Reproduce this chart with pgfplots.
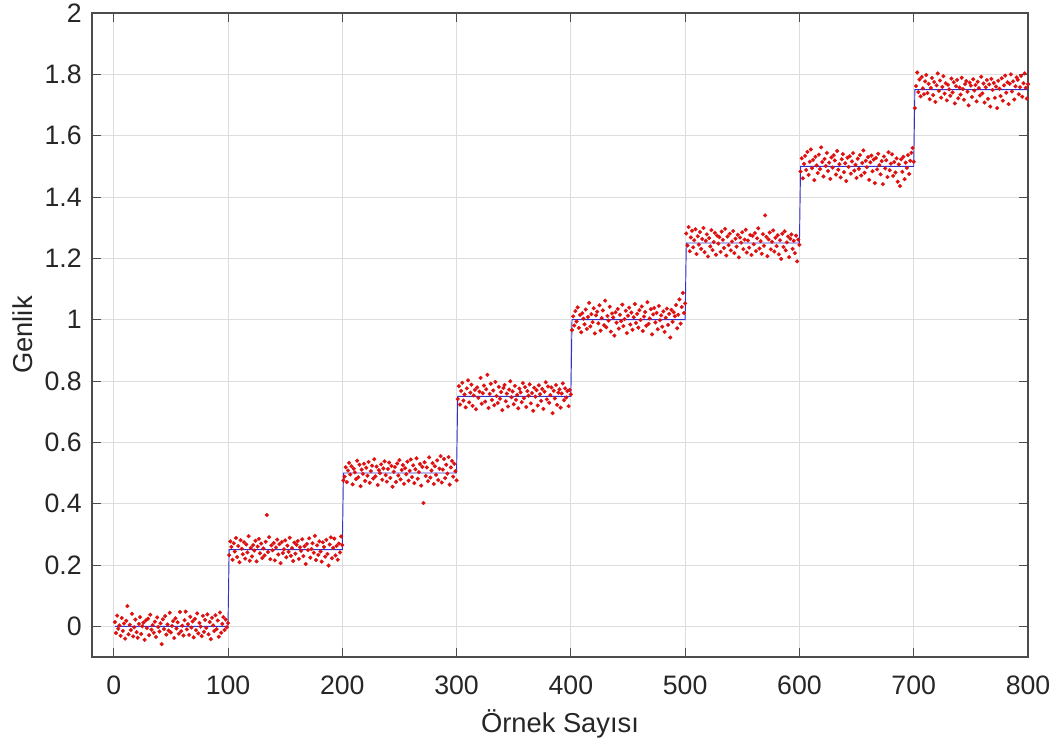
\documentclass[border=0pt]{standalone}
\usepackage{fontspec}
\setmainfont{Liberation Sans}
\usepackage{pgfplots}
\pgfplotsset{compat=1.18}
\definecolor{mred}{RGB}{222,16,16}
\definecolor{mblue}{RGB}{50,50,205}
\begin{document}
\begin{tikzpicture}
\begin{axis}[
  width=702pt, height=483pt, scale only axis,
  xmin=-19, xmax=800, ymin=-0.1, ymax=2,
  xtick={0,100,200,300,400,500,600,700,800},
  ytick={0,0.2,0.4,0.6,0.8,1,1.2,1.4,1.6,1.8,2},
  yticklabels={0,0.2,0.4,0.6,0.8,1,1.2,1.4,1.6,1.8,2},
  xticklabels={0,100,200,300,400,500,600,700,800},
  tick align=inside, major tick length=7pt,
  xtick pos=both, ytick pos=both,
  tick style={black!70, line width=0.6pt},
  grid=major, grid style={black!13, line width=0.6pt},
  axis line style={black!70, line width=0.8pt},
  tick label style={font=\fontsize{20}{24}\selectfont, text=black!85},
  xticklabel style={anchor=base, yshift=-28.5pt},
  yticklabel style={anchor=east, inner sep=0pt, xshift=-7.5pt},
  label style={font=\fontsize{20.5}{24}\selectfont, text=black!85},
  xlabel={Örnek Sayısı},
  ylabel={Genlik},
  xlabel style={at={(axis description cs:0.5,-0.1165)}, anchor=base},
  ylabel style={at={(axis description cs:-0.064,0.5)}, anchor=base},
]
\coordinate (sw) at (rel axis cs:0,0);
\coordinate (ne) at (rel axis cs:1,1);
\addplot[mred, only marks, mark=*, mark size=1.45pt, mark options={solid, fill=mred, draw=mred, line width=0.2pt}] coordinates {
(1,0.014)(2,-0.022)(3,0.035)(4,-0.008)(5,0.003)(6,-0.031)(7,0.027)(8,-0.015)(9,0.009)(10,-0.040)
(11,0.018)(12,0.066)(13,-0.026)(14,0.005)(15,-0.012)(16,0.041)(17,-0.033)(18,-0.003)(19,0.022)(20,-0.019)
(21,-0.037)(22,0.008)(23,0.030)(24,-0.025)(25,0.000)(26,0.012)(27,-0.044)(28,0.019)(29,-0.006)(30,0.025)
(31,-0.029)(32,0.038)(33,-0.011)(34,0.004)(35,-0.021)(36,0.015)(37,-0.035)(38,0.029)(39,-0.002)(40,-0.017)
(41,0.010)(42,-0.058)(43,0.023)(44,-0.009)(45,0.033)(46,-0.027)(47,0.006)(48,-0.014)(49,0.044)(50,-0.020)
(51,0.001)(52,0.017)(53,-0.038)(54,0.026)(55,-0.007)(56,0.013)(57,-0.024)(58,0.047)(59,-0.016)(60,0.002)
(61,-0.030)(62,0.020)(63,0.048)(64,-0.010)(65,0.007)(66,-0.028)(67,0.031)(68,-0.004)(69,0.016)(70,-0.036)
(71,0.024)(72,-0.013)(73,0.042)(74,-0.023)(75,0.011)(76,-0.001)(77,-0.032)(78,0.034)(79,-0.018)(80,0.021)
(81,-0.005)(82,0.039)(83,-0.026)(84,0.014)(85,-0.042)(86,0.028)(87,0.003)(88,-0.015)(89,0.036)(90,-0.009)
(91,0.019)(92,-0.034)(93,0.045)(94,-0.021)(95,0.008)(96,0.030)(97,-0.012)(98,0.022)(99,-0.003)(100,0.011)
(101,0.232)(102,0.277)(103,0.259)(104,0.217)(105,0.271)(106,0.244)(107,0.288)(108,0.226)(109,0.262)(110,0.209)
(111,0.281)(112,0.253)(113,0.235)(114,0.274)(115,0.221)(116,0.267)(117,0.241)(118,0.294)(119,0.214)(120,0.256)
(121,0.228)(122,0.265)(123,0.247)(124,0.279)(125,0.212)(126,0.260)(127,0.285)(128,0.238)(129,0.270)(130,0.223)
(131,0.254)(132,0.231)(133,0.276)(134,0.363)(135,0.242)(136,0.291)(137,0.219)(138,0.264)(139,0.248)(140,0.272)
(141,0.215)(142,0.257)(143,0.283)(144,0.234)(145,0.268)(146,0.206)(147,0.275)(148,0.239)(149,0.251)(150,0.280)
(151,0.225)(152,0.263)(153,0.243)(154,0.289)(155,0.230)(156,0.255)(157,0.213)(158,0.273)(159,0.237)(160,0.266)
(161,0.278)(162,0.220)(163,0.258)(164,0.246)(165,0.284)(166,0.229)(167,0.261)(168,0.203)(169,0.269)(170,0.249)
(171,0.287)(172,0.224)(173,0.252)(174,0.271)(175,0.240)(176,0.295)(177,0.216)(178,0.264)(179,0.233)(180,0.277)
(181,0.244)(182,0.211)(183,0.274)(184,0.259)(185,0.227)(186,0.282)(187,0.236)(188,0.198)(189,0.267)(190,0.290)
(191,0.222)(192,0.256)(193,0.286)(194,0.231)(195,0.262)(196,0.217)(197,0.270)(198,0.241)(199,0.293)(200,0.265)
(201,0.476)(202,0.488)(203,0.519)(204,0.470)(205,0.508)(206,0.533)(207,0.495)(208,0.522)(209,0.463)(210,0.514)
(211,0.502)(212,0.480)(213,0.540)(214,0.486)(215,0.527)(216,0.457)(217,0.511)(218,0.497)(219,0.530)(220,0.474)
(221,0.517)(222,0.491)(223,0.536)(224,0.468)(225,0.506)(226,0.524)(227,0.482)(228,0.545)(229,0.489)(230,0.521)
(231,0.461)(232,0.509)(233,0.499)(234,0.528)(235,0.478)(236,0.515)(237,0.538)(238,0.493)(239,0.472)(240,0.513)
(241,0.534)(242,0.484)(243,0.523)(244,0.455)(245,0.504)(246,0.519)(247,0.471)(248,0.531)(249,0.492)(250,0.542)
(251,0.479)(252,0.510)(253,0.526)(254,0.465)(255,0.516)(256,0.496)(257,0.537)(258,0.475)(259,0.507)(260,0.544)
(261,0.487)(262,0.525)(263,0.467)(264,0.512)(265,0.548)(266,0.481)(267,0.503)(268,0.529)(269,0.459)(270,0.520)
(271,0.402)(272,0.535)(273,0.490)(274,0.518)(275,0.473)(276,0.551)(277,0.485)(278,0.508)(279,0.532)(280,0.464)
(281,0.522)(282,0.494)(283,0.541)(284,0.477)(285,0.514)(286,0.555)(287,0.469)(288,0.511)(289,0.546)(290,0.483)
(291,0.527)(292,0.498)(293,0.552)(294,0.462)(295,0.518)(296,0.539)(297,0.488)(298,0.530)(299,0.506)(300,0.476)
(301,0.741)(302,0.783)(303,0.723)(304,0.768)(305,0.794)(306,0.736)(307,0.756)(308,0.714)(309,0.776)(310,0.802)
(311,0.730)(312,0.762)(313,0.788)(314,0.719)(315,0.753)(316,0.771)(317,0.708)(318,0.779)(319,0.745)(320,0.765)
(321,0.810)(322,0.726)(323,0.760)(324,0.785)(325,0.733)(326,0.773)(327,0.820)(328,0.712)(329,0.758)(330,0.791)
(331,0.738)(332,0.769)(333,0.721)(334,0.797)(335,0.751)(336,0.728)(337,0.781)(338,0.742)(339,0.764)(340,0.705)
(341,0.777)(342,0.787)(343,0.734)(344,0.759)(345,0.717)(346,0.772)(347,0.799)(348,0.747)(349,0.766)(350,0.724)
(351,0.784)(352,0.739)(353,0.755)(354,0.711)(355,0.775)(356,0.763)(357,0.731)(358,0.793)(359,0.744)(360,0.780)
(361,0.715)(362,0.767)(363,0.752)(364,0.789)(365,0.727)(366,0.761)(367,0.703)(368,0.778)(369,0.749)(370,0.770)
(371,0.720)(372,0.786)(373,0.757)(374,0.735)(375,0.774)(376,0.709)(377,0.765)(378,0.796)(379,0.740)(380,0.782)
(381,0.729)(382,0.754)(383,0.779)(384,0.695)(385,0.768)(386,0.743)(387,0.787)(388,0.722)(389,0.762)(390,0.773)
(391,0.713)(392,0.759)(393,0.792)(394,0.737)(395,0.776)(396,0.746)(397,0.767)(398,0.718)(399,0.771)(400,0.756)
(401,0.966)(402,1.011)(403,0.981)(404,1.028)(405,0.994)(406,1.040)(407,0.973)(408,1.015)(409,0.959)(410,1.021)
(411,1.003)(412,0.985)(413,1.033)(414,0.970)(415,1.009)(416,1.055)(417,0.978)(418,1.018)(419,0.992)(420,1.037)
(421,0.955)(422,1.014)(423,1.026)(424,0.988)(425,1.047)(426,0.964)(427,1.005)(428,1.030)(429,0.982)(430,1.062)
(431,0.975)(432,1.012)(433,0.997)(434,1.042)(435,0.961)(436,1.020)(437,1.007)(438,0.948)(439,1.024)(440,0.990)
(441,1.035)(442,0.971)(443,1.016)(444,0.995)(445,1.049)(446,0.979)(447,1.002)(448,1.029)(449,0.956)(450,1.013)
(451,1.039)(452,0.984)(453,1.023)(454,0.967)(455,1.008)(456,1.051)(457,0.989)(458,1.019)(459,0.974)(460,1.031)
(461,0.999)(462,1.043)(463,0.963)(464,1.010)(465,1.025)(466,0.980)(467,1.057)(468,0.986)(469,1.004)(470,1.034)
(471,0.952)(472,1.017)(473,1.038)(474,0.991)(475,1.022)(476,0.969)(477,1.045)(478,0.998)(479,1.014)(480,0.977)
(481,1.027)(482,0.960)(483,1.006)(484,1.036)(485,0.983)(486,1.019)(487,0.942)(488,1.032)(489,0.993)(490,1.024)
(491,1.011)(492,1.048)(493,0.972)(494,1.016)(495,1.066)(496,0.987)(497,1.041)(498,1.087)(499,1.022)(500,1.053)
(501,1.281)(502,1.242)(503,1.302)(504,1.223)(505,1.268)(506,1.290)(507,1.236)(508,1.259)(509,1.295)(510,1.214)
(511,1.272)(512,1.245)(513,1.286)(514,1.231)(515,1.263)(516,1.299)(517,1.220)(518,1.257)(519,1.278)(520,1.206)
(521,1.266)(522,1.239)(523,1.292)(524,1.227)(525,1.253)(526,1.283)(527,1.212)(528,1.274)(529,1.248)(530,1.269)
(531,1.221)(532,1.287)(533,1.260)(534,1.234)(535,1.296)(536,1.209)(537,1.271)(538,1.243)(539,1.280)(540,1.226)
(541,1.255)(542,1.289)(543,1.217)(544,1.264)(545,1.238)(546,1.277)(547,1.203)(548,1.268)(549,1.251)(550,1.285)
(551,1.230)(552,1.261)(553,1.293)(554,1.219)(555,1.258)(556,1.235)(557,1.276)(558,1.211)(559,1.273)(560,1.246)
(561,1.282)(562,1.224)(563,1.265)(564,1.298)(565,1.232)(566,1.256)(567,1.215)(568,1.279)(569,1.241)(570,1.340)
(571,1.270)(572,1.207)(573,1.262)(574,1.284)(575,1.229)(576,1.254)(577,1.291)(578,1.222)(579,1.267)(580,1.240)
(581,1.275)(582,1.213)(583,1.259)(584,1.198)(585,1.280)(586,1.237)(587,1.288)(588,1.226)(589,1.252)(590,1.271)
(591,1.204)(592,1.264)(593,1.278)(594,1.231)(595,1.257)(596,1.217)(597,1.274)(598,1.190)(599,1.261)(600,1.244)
(601,1.483)(602,1.526)(603,1.461)(604,1.508)(605,1.534)(606,1.488)(607,1.547)(608,1.472)(609,1.515)(610,1.555)
(611,1.494)(612,1.521)(613,1.455)(614,1.531)(615,1.503)(616,1.478)(617,1.538)(618,1.491)(619,1.562)(620,1.514)
(621,1.467)(622,1.524)(623,1.501)(624,1.544)(625,1.485)(626,1.512)(627,1.459)(628,1.529)(629,1.496)(630,1.536)
(631,1.519)(632,1.473)(633,1.550)(634,1.489)(635,1.507)(636,1.464)(637,1.523)(638,1.540)(639,1.481)(640,1.510)
(641,1.452)(642,1.528)(643,1.498)(644,1.533)(645,1.476)(646,1.516)(647,1.543)(648,1.486)(649,1.505)(650,1.462)
(651,1.525)(652,1.492)(653,1.537)(654,1.470)(655,1.511)(656,1.552)(657,1.479)(658,1.518)(659,1.497)(660,1.530)
(661,1.456)(662,1.513)(663,1.535)(664,1.484)(665,1.522)(666,1.445)(667,1.527)(668,1.490)(669,1.541)(670,1.504)
(671,1.474)(672,1.517)(673,1.442)(674,1.532)(675,1.493)(676,1.520)(677,1.465)(678,1.546)(679,1.487)(680,1.509)
(681,1.539)(682,1.469)(683,1.514)(684,1.480)(685,1.526)(686,1.450)(687,1.506)(688,1.436)(689,1.523)(690,1.482)
(691,1.531)(692,1.458)(693,1.512)(694,1.495)(695,1.537)(696,1.475)(697,1.518)(698,1.544)(699,1.560)(700,1.515)
(701,1.690)(702,1.762)(703,1.806)(704,1.742)(705,1.783)(706,1.728)(707,1.791)(708,1.754)(709,1.735)(710,1.777)
(711,1.798)(712,1.739)(713,1.769)(714,1.719)(715,1.756)(716,1.788)(717,1.732)(718,1.775)(719,1.710)(720,1.764)
(721,1.803)(722,1.746)(723,1.780)(724,1.724)(725,1.759)(726,1.794)(727,1.737)(728,1.771)(729,1.715)(730,1.766)
(731,1.751)(732,1.730)(733,1.786)(734,1.741)(735,1.774)(736,1.705)(737,1.761)(738,1.782)(739,1.722)(740,1.757)
(741,1.734)(742,1.789)(743,1.752)(744,1.717)(745,1.768)(746,1.778)(747,1.743)(748,1.699)(749,1.773)(750,1.763)
(751,1.726)(752,1.784)(753,1.747)(754,1.765)(755,1.712)(756,1.776)(757,1.755)(758,1.731)(759,1.792)(760,1.738)
(761,1.770)(762,1.708)(763,1.758)(764,1.781)(765,1.720)(766,1.767)(767,1.695)(768,1.785)(769,1.749)(770,1.772)
(771,1.723)(772,1.760)(773,1.690)(774,1.779)(775,1.753)(776,1.729)(777,1.787)(778,1.714)(779,1.764)(780,1.796)
(781,1.740)(782,1.774)(783,1.703)(784,1.769)(785,1.800)(786,1.744)(787,1.777)(788,1.718)(789,1.761)(790,1.790)
(791,1.782)(792,1.735)(793,1.758)(794,1.795)(795,1.727)(796,1.771)(797,1.803)(798,1.756)(799,1.721)(800,1.768)
};
\addplot[mblue, line width=0.7pt] coordinates {
(1,0)(100,0)(101,0.25)(200,0.25)(201,0.5)(300,0.5)(301,0.75)(400,0.75)
(401,1)(500,1)(501,1.25)(600,1.25)(601,1.5)(700,1.5)(701,1.75)(800,1.75)
};
\end{axis}
\path ([shift={(-69pt,-65.25pt)}]sw) rectangle ([shift={(24pt,9.75pt)}]ne);
\end{tikzpicture}
\end{document}
